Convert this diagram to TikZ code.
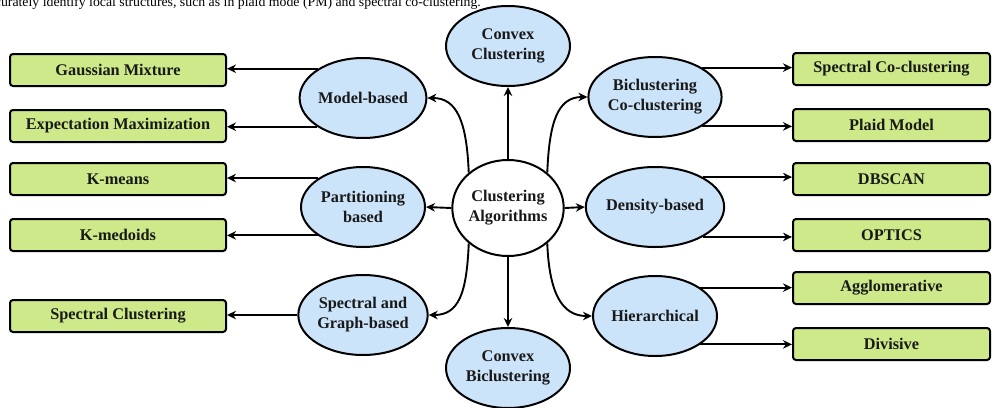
\documentclass[tikz,border=0pt]{standalone}
\usepackage{fontspec}
\setmainfont{Liberation Serif}
\usetikzlibrary{arrows.meta,shapes.geometric}
\definecolor{ellblue}{RGB}{204,228,250}
\definecolor{boxgreen}{RGB}{205,233,137}
\begin{document}
\begin{tikzpicture}[x=1pt,y=-1pt,
  lbl/.style={font=\fontsize{16.3}{20}\selectfont\bfseries, text=black!90, align=center},
  cat/.style={lbl, ellipse, draw=black, line width=2pt, fill=ellblue, minimum width=124pt, minimum height=80pt, inner sep=0pt},
  root/.style={lbl, ellipse, draw=black, line width=2pt, fill=white, minimum width=108pt, minimum height=96pt, inner sep=0pt},
  leafL/.style={lbl, rectangle, rounded corners=3pt, draw=black, line width=2pt, fill=boxgreen, minimum width=216pt, minimum height=32pt, inner sep=0pt},
  leafR/.style={lbl, rectangle, rounded corners=3pt, draw=black, line width=2pt, fill=boxgreen, minimum width=197pt, minimum height=32pt, inner sep=0pt},
  arr/.style={line width=1.9pt, -{Stealth[length=9pt,width=8.5pt]}}
]
\useasboundingbox (0,0) rectangle (1001,407);
\begin{scope}
\clip (0,0) rectangle (1001,407);
\node[anchor=base east, font=\fontsize{13.8}{16}\selectfont, inner sep=0pt] (toptext) at (481,6) {accurately identify local structures, such as in plaid mode (PM) and spectral co-clustering.};
\end{scope}

% root and categories
\node[root] (ca) at (508,208) {Clustering\\Algorithms};
\node[cat] (cc) at (508,46) {Convex\\Clustering};
\node[cat] (cb) at (508,368) {Convex\\Biclustering};
\node[cat] (mb) at (363,98) {Model-based};
\node[cat] (pb) at (363,207) {Partitioning\\based};
\node[cat] (sg) at (363,315) {Spectral and\\Graph-based};
\node[cat] (bc) at (655,97) {Biclustering\\Co-clustering};
\node[cat] (db) at (655,207) {Density-based};
\node[cat] (hi) at (655,316) {Hierarchical};

% leaves left
\node[leafL] (gm) at (118,70) {Gaussian Mixture};
\node[leafL] (em) at (118,126) {Expectation Maximization};
\node[leafL] (km) at (118,179) {K-means};
\node[leafL] (kd) at (118,235) {K-medoids};
\node[leafL] (sc) at (118,316) {Spectral Clustering};

% leaves right
\node[leafR] (sco) at (891.5,69) {Spectral Co-clustering};
\node[leafR] (pm) at (891.5,125) {Plaid Model};
\node[leafR] (dbs) at (891.5,179) {DBSCAN};
\node[leafR] (op) at (891.5,235) {OPTICS};
\node[leafR] (ag) at (891.5,288) {Agglomerative};
\node[leafR] (dv) at (891.5,344) {Divisive};

% root connectors
\draw[arr] (ca.north) -- (cc.south);
\draw[arr] (ca.south) -- (cb.north);
\draw[arr] (ca.west) -- (pb.east);
\draw[arr] (ca.east) -- (db.west);
\draw[arr] (ca.138) .. controls +(-2,-50) and +(30,0) .. (mb.east);
\draw[arr] (ca.222) .. controls +(-2,50) and +(30,0) .. (sg.east);
\draw[arr] (ca.42) .. controls +(2,-50) and +(-30,0) .. (bc.west);
\draw[arr] (ca.-42) .. controls +(2,50) and +(-30,0) .. (hi.west);

% branch connectors
\draw[arr] (mb.147.7) -- (gm.east |- mb.147.7);
\draw[arr] (mb.212.3) -- (em.east |- mb.212.3);
\draw[arr] (pb.147.7) -- (km.east |- pb.147.7);
\draw[arr] (pb.212.3) -- (kd.east |- pb.212.3);
\draw[arr] (sg.west) -- (sc.east |- sg.west);
\draw[arr] (bc.32.3) -- (sco.west |- bc.32.3);
\draw[arr] (bc.-32.3) -- (pm.west |- bc.-32.3);
\draw[arr] (db.32.3) -- (dbs.west |- db.32.3);
\draw[arr] (db.-32.3) -- (op.west |- db.-32.3);
\draw[arr] (hi.32.3) -- (ag.west |- hi.32.3);
\draw[arr] (hi.-32.3) -- (dv.west |- hi.-32.3);
\end{tikzpicture}
\end{document}
